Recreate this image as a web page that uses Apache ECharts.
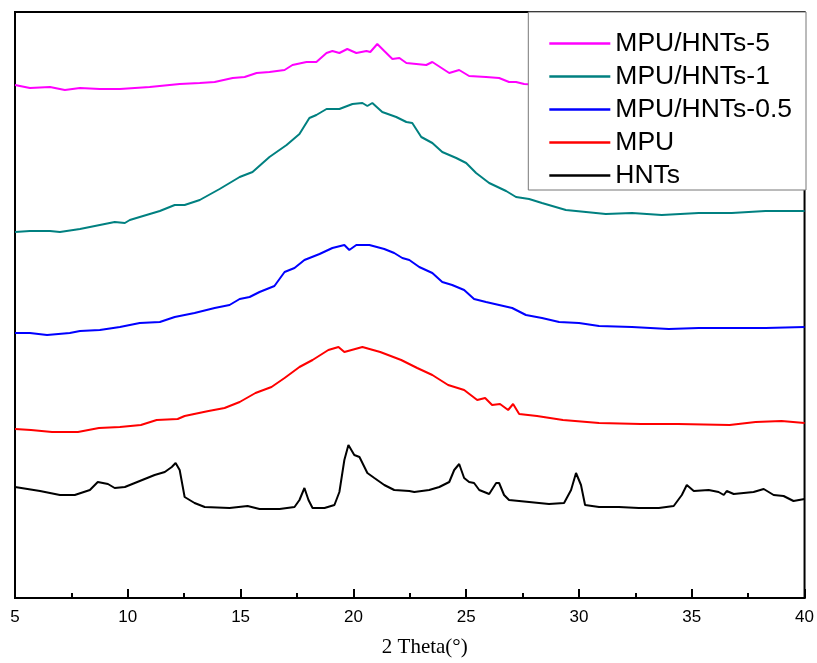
<!DOCTYPE html>
<html>
<head>
<meta charset="utf-8">
<script src="https://cdn.jsdelivr.net/npm/echarts@6/dist/echarts.min.js"></script>
<style>
    html, body {margin: 0; padding: 0; background: #fff;}
    #chart {width: 817px; height: 663px;}
</style>
</head>
<body>
<div id="chart"></div>
<script>
// XRD patterns, intensities are offset (arbitrary units)
const seriesNames = ['MPU/HNTs-5', 'MPU/HNTs-1', 'MPU/HNTs-0.5', 'MPU', 'HNTs']
const seriesColors = ['#ff00ff', '#008080', '#0000ff', '#ff0000', '#000000']
const xTicks = [5, 10, 15, 20, 25, 30, 35, 40]

const hntsX = [5.00, 6.11, 6.99, 7.65, 8.32, 8.67, 9.12, 9.42, 9.87, 10.53, 11.19, 11.64, 11.95, 12.12, 12.30, 12.52, 12.96, 13.41, 14.51, 15.31, 15.84, 16.73, 17.39, 17.61, 17.83, 18.01, 18.19, 18.72, 19.16, 19.38, 19.60, 19.78, 20.04, 20.27, 20.62, 20.93, 21.37, 21.81, 22.48, 22.70, 23.36, 23.81, 24.25, 24.47, 24.69, 24.91, 25.13, 25.35, 25.58, 26.02, 26.33, 26.46, 26.68, 26.90, 27.79, 28.67, 29.34, 29.65, 29.87, 30.09, 30.27, 30.89, 31.77, 32.65, 33.54, 34.20, 34.56, 34.78, 35.09, 35.75, 36.19, 36.42, 36.55, 36.86, 37.74, 38.19, 38.63, 39.07, 39.51, 40.00]
const hntsY = [111, 107, 103, 103, 108, 116, 114, 110, 111, 117, 123, 126, 131, 135, 128, 101, 95, 91, 90, 92, 89, 89, 91, 98, 110, 98, 90, 90, 93, 106, 138, 153, 143, 141, 125, 120, 113, 108, 107, 106, 108, 111, 116, 128, 134, 120, 116, 115, 108, 104, 115, 115, 103, 98, 96, 94, 95, 108, 125, 113, 93, 91, 91, 90, 90, 92, 103, 113, 107, 108, 106, 103, 107, 104, 106, 109, 103, 102, 97, 99]

const mpuX = [5.00, 5.71, 6.64, 7.79, 8.72, 9.65, 10.58, 11.28, 12.21, 12.52, 13.58, 14.29, 14.96, 15.66, 16.37, 16.95, 17.61, 18.19, 18.89, 19.34, 19.60, 20.40, 21.19, 22.12, 22.83, 23.50, 24.20, 24.91, 25.49, 25.84, 26.15, 26.50, 26.86, 27.08, 27.35, 28.14, 29.29, 30.89, 32.74, 34.38, 36.68, 37.83, 38.98, 40.00]
const mpuY = [169, 168, 166, 166, 170, 171, 173, 178, 179, 182, 187, 190, 196, 205, 211, 220, 231, 238, 248, 251, 246, 251, 246, 238, 230, 223, 213, 208, 198, 200, 193, 194, 188, 194, 184, 182, 178, 175, 174, 174, 173, 176, 177, 175]

const h05X = [5.00, 5.66, 6.42, 7.43, 7.88, 8.76, 9.65, 10.53, 11.42, 12.08, 12.96, 13.85, 14.51, 14.96, 15.40, 15.84, 16.50, 16.95, 17.39, 17.83, 18.50, 19.07, 19.60, 19.82, 20.13, 20.71, 21.37, 21.81, 22.17, 22.48, 22.92, 23.50, 23.94, 24.38, 24.91, 25.35, 25.88, 26.46, 27.04, 27.65, 28.36, 29.12, 30.00, 30.89, 32.35, 33.98, 35.31, 37.08, 38.27, 40.00]
const h05Y = [265, 265, 263, 265, 267, 268, 271, 275, 276, 281, 285, 290, 293, 299, 301, 306, 312, 326, 330, 338, 344, 350, 353, 348, 353, 353, 349, 345, 340, 338, 331, 325, 316, 313, 308, 299, 296, 293, 290, 283, 280, 276, 275, 272, 271, 269, 270, 270, 270, 271]

const h1X = [5.00, 5.66, 6.55, 6.99, 7.88, 8.76, 9.42, 9.87, 10.09, 10.53, 11.42, 12.08, 12.52, 13.19, 14.07, 14.96, 15.53, 16.28, 17.04, 17.61, 18.05, 18.36, 18.81, 19.38, 19.96, 20.40, 20.62, 20.84, 21.28, 21.90, 22.35, 22.61, 23.01, 23.50, 23.94, 24.56, 25.00, 25.44, 26.02, 26.77, 27.21, 27.79, 28.36, 29.42, 30.31, 31.19, 32.35, 33.67, 35.31, 36.77, 38.27, 40.00]
const h1Y = [366, 367, 367, 366, 369, 373, 376, 375, 378, 381, 387, 393, 393, 398, 409, 421, 426, 441, 453, 464, 480, 483, 489, 489, 494, 495, 492, 495, 486, 481, 476, 475, 461, 455, 446, 440, 435, 425, 415, 407, 401, 399, 395, 388, 386, 384, 385, 383, 385, 385, 387, 387]

const h5X = [5.00, 5.66, 6.55, 7.21, 7.88, 8.76, 9.65, 10.97, 12.30, 13.19, 13.85, 14.65, 15.18, 15.71, 16.28, 16.95, 17.30, 17.92, 18.36, 18.81, 19.07, 19.38, 19.73, 20.13, 20.58, 20.75, 21.06, 21.37, 21.73, 22.04, 22.35, 23.23, 23.50, 24.25, 24.69, 25.13, 25.88, 26.46, 26.90, 27.21, 27.57, 29.12, 31.77, 34.42, 37.08, 40.00]
const h5Y = [513, 510, 511, 508, 510, 509, 509, 511, 514, 515, 516, 520, 521, 525, 526, 528, 533, 536, 536, 545, 547, 545, 549, 545, 547, 546, 554, 547, 539, 540, 535, 533, 536, 525, 528, 522, 521, 520, 516, 516, 514, 512, 511, 512, 511, 511]

const pairs = (xs, ys) => xs.map((x, i) => [x, ys[i]])
const seriesData = [pairs(h5X, h5Y), pairs(h1X, h1Y), pairs(h05X, h05Y), pairs(mpuX, mpuY), pairs(hntsX, hntsY)]

const myChart = echarts.init(document.getElementById('chart'))
myChart.setOption({
    animation: false,
    backgroundColor: '#fff',
    grid: {
        left: 15,
        right: 11,
        top: 12,
        bottom: 65,
        show: true,
        borderColor: '#000',
        borderWidth: 2,
    },
    legend: {
        data: seriesNames,
        orient: 'vertical',
        right: 11,
        top: 12,
        z: 10,
        icon: 'rect',
        backgroundColor: '#fff',
        borderColor: '#777',
        borderWidth: 1,
        padding: [18, 14, 1, 21],
        itemWidth: 61,
        itemHeight: 2.5,
        itemGap: 6,
        itemTextGap: 7,
        textStyle: {
            fontFamily: 'Liberation Sans',
            fontSize: 26.5,
            color: '#000',
        },
    },
    xAxis: {
        type: 'value',
        min: 5,
        max: 40,
        interval: 5,
        name: '2 Theta(°)',
        nameLocation: 'middle',
        nameGap: 39,
        nameTextStyle: {
            fontFamily: 'Liberation Serif',
            fontSize: 21,
            color: '#000',
            padding: [0, 0, 0, 30],
        },
        axisLine: {lineStyle: {color: '#000', width: 2}},
        axisTick: {inside: true, length: 9, lineStyle: {color: '#000', width: 2}},
        minorTick: {show: true, splitNumber: 2, length: 5, lineStyle: {color: '#000', width: 2}},
        axisLabel: {
            margin: 11,
            fontFamily: 'Liberation Sans',
            fontSize: 17,
            color: '#000',
            formatter: v => (xTicks.includes(v) ? String(v) : ''),
        },
        splitLine: {show: false},
    },
    yAxis: {
        type: 'value',
        min: 0,
        max: 586,
        axisLine: {show: true, lineStyle: {color: '#000', width: 2}},
        axisTick: {show: false},
        axisLabel: {show: false},
        splitLine: {show: false},
    },
    series: seriesNames.map((name, i) => ({
        name,
        type: 'line',
        data: seriesData[i],
        symbol: 'none',
        color: seriesColors[i],
        lineStyle: {width: 2, color: seriesColors[i]},
    })),
})
</script>
</body>
</html>
